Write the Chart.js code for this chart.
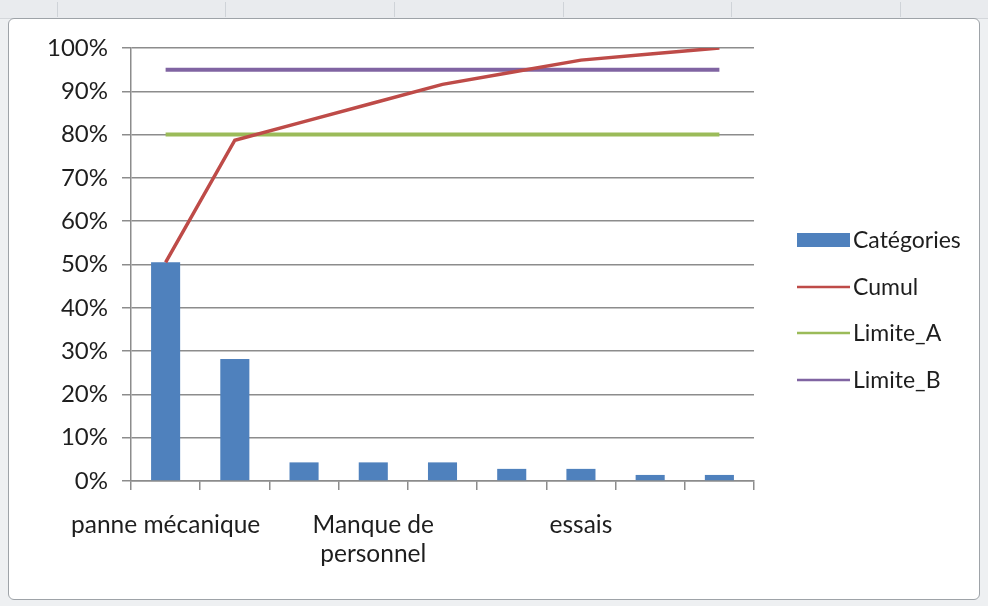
<!DOCTYPE html>
<html lang="fr">
<head>
<meta charset="utf-8">
<title>Pareto des causes</title>
<script src="https://cdn.jsdelivr.net/npm/chart.js@4.4.1/dist/chart.umd.min.js"></script>
<style>
  html, body { margin: 0; padding: 0; }
  body { width: 988px; height: 606px; background: #eef0f2; position: relative; overflow: hidden; }
  #strip { position: absolute; left: 0; top: 0; width: 988px; height: 18px; background: #e9ebee; border-bottom: 1px solid #d4d7db; }
  #strip span { position: absolute; top: 2px; width: 1px; height: 15px; background: #cfd3d8; }
  #frame { position: absolute; left: 8px; top: 18px; width: 970px; height: 580px; background: #ffffff;
           border: 1px solid #9ea3a8; border-radius: 6px; }
  #wrap { position: absolute; left: 8px; top: 18px; width: 972px; height: 582px; }
</style>
</head>
<body>
<div id="strip">
  <span style="left:57px"></span><span style="left:225px"></span><span style="left:394px"></span>
  <span style="left:563px"></span><span style="left:731px"></span><span style="left:900px"></span>
</div>
<div id="frame"></div>
<div id="wrap"><canvas id="pareto" width="972" height="582"></canvas></div>
<script>
// Causes, sorted by weight (only every third name is printed under the axis)
const categories = ['panne mécanique', '', '', ['Manque de', 'personnel'], '', '', 'essais', '', ''];

// Share of each cause
const categoryShare = [0.505, 0.282, 0.043, 0.043, 0.043, 0.028, 0.028, 0.014, 0.014];

// Running total
const cumul = [0.505, 0.787, 0.830, 0.873, 0.916, 0.944, 0.972, 0.986, 1.000];

// Class thresholds
const limiteA = [0.80, 0.80, 0.80, 0.80, 0.80, 0.80, 0.80, 0.80, 0.80];
const limiteB = [0.95, 0.95, 0.95, 0.95, 0.95, 0.95, 0.95, 0.95, 0.95];

// Y axis ticks
const yTicks = [0, 0.1, 0.2, 0.3, 0.4, 0.5, 0.6, 0.7, 0.8, 0.9, 1.0];

const FONT = 'Lato';
const GRID = '#8c8c8c';
const TEXT = '#1e1e1e';

// Legend drawn at the right of the plot, one row per dataset
const sideLegend = {
  id: 'sideLegend',
  afterDraw(chart) {
    const ctx = chart.ctx;
    const x0 = 789, boxW = 53, textX = 845;
    const rows = [222, 269, 315, 362];
    ctx.save();
    ctx.font = '23px ' + FONT;
    ctx.textBaseline = 'middle';
    ctx.textAlign = 'left';
    chart.data.datasets.forEach((ds, i) => {
      const y = rows[i];
      if (ds.type === 'bar') {
        ctx.fillStyle = ds.backgroundColor;
        ctx.fillRect(x0, y - 7, boxW, 14);
      } else {
        ctx.strokeStyle = ds.borderColor;
        ctx.lineWidth = 2.5;
        ctx.beginPath();
        ctx.moveTo(x0, y);
        ctx.lineTo(x0 + boxW, y);
        ctx.stroke();
      }
      ctx.fillStyle = TEXT;
      ctx.fillText(ds.label, textX, y + 1);
    });
    ctx.restore();
  }
};

new Chart(document.getElementById('pareto'), {
  data: {
    labels: categories,
    datasets: [
      { type: 'bar', label: 'Catégories', data: categoryShare, backgroundColor: '#4f81bd',
        categoryPercentage: 1, barPercentage: 0.42, order: 3 },
      { type: 'line', label: 'Cumul', data: cumul, borderColor: '#be4b48', borderWidth: 3.5,
        pointRadius: 0, tension: 0, order: 0 },
      { type: 'line', label: 'Limite_A', data: limiteA, borderColor: '#9bbb59', borderWidth: 4,
        pointRadius: 0, order: 2 },
      { type: 'line', label: 'Limite_B', data: limiteB, borderColor: '#8064a2', borderWidth: 4,
        pointRadius: 0, order: 1 }
    ]
  },
  options: {
    responsive: false,
    animation: false,
    devicePixelRatio: 1,
    layout: { padding: { left: 0, top: 30, right: 226, bottom: 0 } },
    plugins: { legend: { display: false }, tooltip: { enabled: false } },
    scales: {
      x: {
        offset: true,
        afterFit(scale) { scale.height = 119; },
        grid: { offset: true, drawOnChartArea: false, drawTicks: true, tickLength: 9, color: GRID, lineWidth: 1.5 },
        border: { color: GRID, width: 1.5 },
        ticks: { autoSkip: false, maxRotation: 0, minRotation: 0, padding: 20, color: TEXT,
                 font: { family: FONT, size: 24.5 }, lineHeight: 1.3 }
      },
      y: {
        min: 0, max: 1,
        afterFit(scale) { scale.width = 123; },
        afterBuildTicks(scale) { scale.ticks = yTicks.map(v => ({ value: v })); },
        grid: { color: GRID, lineWidth: 1.5, drawTicks: true, tickLength: 9 },
        border: { color: GRID, width: 1.5 },
        ticks: { padding: 14, color: TEXT, font: { family: FONT, size: 24 },
                 callback: v => Math.round(v * 100) + '%' }
      }
    }
  },
  plugins: [sideLegend]
});
</script>
</body>
</html>
